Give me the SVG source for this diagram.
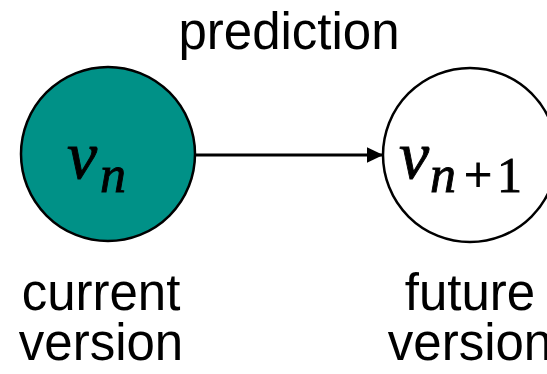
<svg xmlns="http://www.w3.org/2000/svg" width="547" height="374" viewBox="0 0 547 374">
<style>
.lbl{font-family:"Liberation Sans",Arial,sans-serif;font-size:51px;fill:#000;text-anchor:middle}
.m{font-family:"Liberation Serif","Times New Roman",serif;fill:#000;stroke:#000;stroke-width:0.9}
.it{font-style:italic}
.node{stroke:#000;stroke-width:2.5}
</style>
<defs>
<marker id="ah" markerWidth="6" markerHeight="6" refX="5" refY="3" orient="auto" markerUnits="strokeWidth">
<path d="M0,0.4 L5.4,3 L0,5.6 Z" fill="#000"/>
</marker>
</defs>
<rect width="547" height="374" fill="#fff"/>
<g id="connectors">
<line x1="196" y1="155" x2="382" y2="155" stroke="#000" stroke-width="3" marker-end="url(#ah)"/>
<text class="lbl" x="289" y="49">prediction</text>
</g>
<g id="node-current">
<circle class="node" cx="108" cy="154" r="87" fill="#009187"/>
<text class="m it" x="67" y="178" font-size="68">v</text>
<text class="m it" x="100" y="192" font-size="52">n</text>
<text class="lbl" x="101" y="310">current</text>
<text class="lbl" x="101" y="360">version</text>
</g>
<g id="node-future">
<circle class="node" cx="470" cy="155" r="87" fill="#fff"/>
<text class="m it" x="399" y="178" font-size="68">v</text>
<text class="m it" x="430" y="192" font-size="52">n</text>
<text class="m" x="464" y="192" font-size="50">+</text>
<text class="m" x="497" y="192" font-size="50">1</text>
<text class="lbl" x="470" y="310">future</text>
<text class="lbl" x="470" y="360">version</text>
</g>
</svg>
